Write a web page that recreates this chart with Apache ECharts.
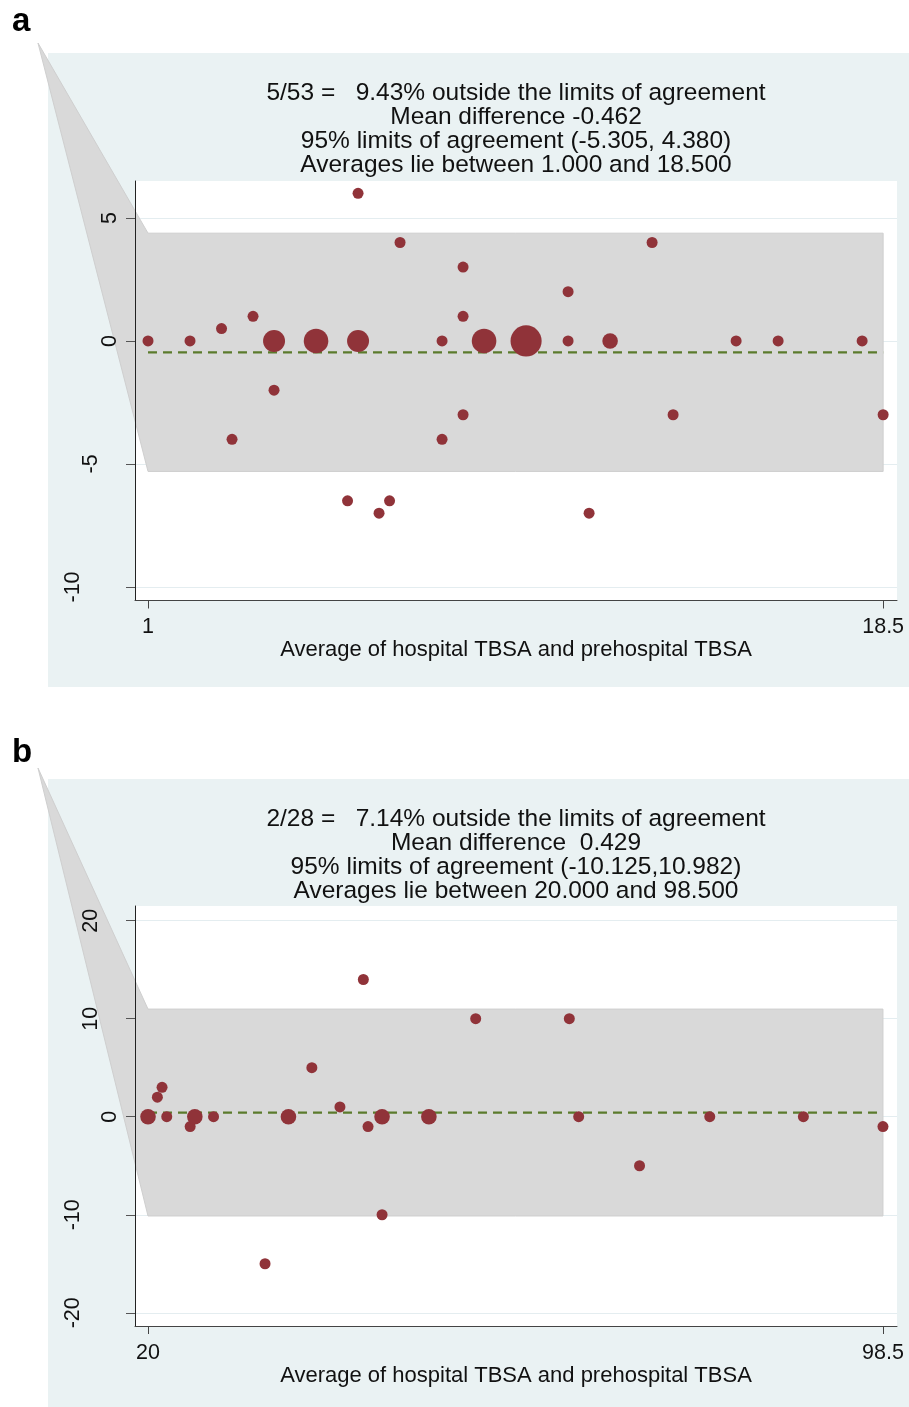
<!DOCTYPE html>
<html><head><meta charset="utf-8">
<script src="https://cdn.jsdelivr.net/npm/echarts@6/dist/echarts.min.js"></script>
<style>html,body{margin:0;padding:0;background:#fff}#c{width:909px;height:1407px}</style>
</head><body><div id="c"></div>
<script>
// ---------- Panel a data ----------
const avgA   = [1, 2, 2.75, 3, 3.5, 4, 4, 5, 5.75, 6, 6, 6.5, 6.75, 7, 8, 8, 8.5, 8.5, 8.5, 9, 10, 11, 11, 11.5, 12, 13, 13.5, 15, 16, 18, 18.5];
const diffA  = [0, 0, 0.5, -4, 1, 0, -2, 0, -6.5, 6, 0, -7, -6.5, 4, 0, -4, 3, 1, -3, 0, 0, 2, 0, -7, 0, 4, -3, 0, 0, 0, -3];
const countA = [1, 1, 1, 1, 1, 4, 1, 5, 1, 1, 4, 1, 1, 1, 1, 1, 1, 1, 1, 5, 8, 1, 1, 1, 2, 1, 1, 1, 1, 1, 1];
const meanA = -0.462;
const loaA = [-5.305, 4.380];
const xTicksA = [1, 18.5];
const yTicksA = [-10, -5, 0, 5];
const xRangeA = [0.69, 18.83];
const yRangeA = [-10.55, 6.5];
const titleA = ['5/53 =   9.43% outside the limits of agreement', 'Mean difference -0.462', '95% limits of agreement (-5.305, 4.380)', 'Averages lie between 1.000 and 18.500'];

// ---------- Panel b data ----------
const avgB   = [20, 21, 21.5, 22, 24.5, 25, 27, 32.5, 35, 37.5, 40.5, 43, 43.5, 45, 45, 50, 55, 65, 66, 72.5, 80, 90, 98.5];
const diffB  = [0, 2, 3, 0, -1, 0, 0, -15, 0, 5, 1, 14, -1, 0, -10, 0, 10, 10, 0, -5, 0, 0, -1];
const countB = [2, 1, 1, 1, 1, 2, 1, 1, 2, 1, 1, 1, 1, 2, 1, 2, 1, 1, 1, 1, 1, 1, 1];
const meanB = 0.429;
const loaB = [-10.125, 10.982];
const xTicksB = [20, 98.5];
const yTicksB = [-20, -10, 0, 10, 20];
const xRangeB = [18.61, 100];
const yRangeB = [-21.35, 21.5];
const titleB = ['2/28 =   7.14% outside the limits of agreement', 'Mean difference  0.429', '95% limits of agreement (-10.125,10.982)', 'Averages lie between 20.000 and 98.500'];

const xName = 'Average of hospital TBSA and prehospital TBSA';

// ---------- styles / layout ----------
const FONT = '"Liberation Sans", Arial, Helvetica, sans-serif';
const BG = '#eaf2f3';
const MARKER = '#903339';
const MEANC = '#5b7b2c';
const BAND = '#d9d9d9';
const BASE_SIZE = 11;
const APEX = [-97, -138];
const LBL_MARGIN = 14;
const CHAR_SHIFT = 18.5;
const TICK_FS = 21.5;

const panels = [
  {label:'a', avg:avgA, diff:diffA, count:countA, mean:meanA, loa:loaA, xTicks:xTicksA, yTicks:yTicksA,
   xRange:xRangeA, yRange:yRangeA, title:titleA,
   grid:{left:135, top:181, width:762, height:419.5}, bg:[48, 53, 861, 634], labelY:22, titleTop:81},
  {label:'b', avg:avgB, diff:diffB, count:countB, mean:meanB, loa:loaB, xTicks:xTicksB, yTicks:yTicksB,
   xRange:xRangeB, yRange:yRangeB, title:titleB,
   grid:{left:135, top:906, width:762, height:420}, bg:[48, 779, 861, 628], labelY:753, titleTop:807}
];

const grids = [], xAxes = [], yAxes = [], series = [], graphics = [];

panels.forEach((p, i) => {
  graphics.push({type:'rect', z:-10, shape:{x:p.bg[0], y:p.bg[1], width:p.bg[2], height:p.bg[3]}, style:{fill:BG}, silent:true});
  graphics.push({type:'text', z:10, style:{text:p.title.join('\n'), x:516, y:p.titleTop, textAlign:'center', textVerticalAlign:'top',
    font:'24.5px ' + FONT, lineHeight:24, fill:'#111'}, silent:true});
  graphics.push({type:'text', z:10, style:{text:p.label, x:12, y:p.labelY, textAlign:'left', textVerticalAlign:'middle',
    font:'bold 33px ' + FONT, fill:'#000'}, silent:true});

  grids.push(Object.assign({show:true, backgroundColor:'#fff', borderWidth:0, containLabel:false, outerBoundsMode:'none'}, p.grid));

  xAxes.push({
    type:'value', gridIndex:i, position:'bottom', min:p.xRange[0], max:p.xRange[1], z:5,
    axisLine:{show:true, onZero:false, lineStyle:{color:'#444', width:1}},
    axisTick:{show:true, length:8, customValues:p.xTicks, lineStyle:{color:'#444', width:1}},
    axisLabel:{show:true, customValues:p.xTicks, margin:16, fontSize:TICK_FS, fontFamily:FONT, color:'#111'},
    splitLine:{show:false},
    name:xName, nameLocation:'middle', nameGap:38,
    nameTextStyle:{fontSize:22, fontFamily:FONT, color:'#111'}
  });

  const common = {type:'value', gridIndex:i, position:'left', offset:0, min:p.yRange[0], max:p.yRange[1]};
  // gridlines (below band)
  yAxes.push(Object.assign({}, common, {z:0,
    axisLine:{show:false}, axisTick:{show:false, customValues:p.yTicks}, axisLabel:{show:false},
    splitLine:{show:true, lineStyle:{color:'#e4edf0', width:1}}}));
  // labels grouped by character count (Stata-like vertical label offset)
  [1, 2, 3].forEach(k => {
    const vals = p.yTicks.filter(t => String(t).length === k);
    yAxes.push(Object.assign({}, common, {z:5,
      axisLine:{show:k === 1, onZero:false, lineStyle:{color:'#222', width:1}},
      axisTick:{show:k === 1, length:9, customValues:p.yTicks, lineStyle:{color:'#555', width:1}},
      axisLabel:{show:vals.length > 0, rotate:90, customValues:vals.length ? vals : [p.yTicks[0]],
        margin:LBL_MARGIN + (k - 1) * CHAR_SHIFT, fontSize:TICK_FS, fontFamily:FONT, color:'#111'},
      splitLine:{show:false}}));
  });

  const yIdx = i * 4 + 1;
  const xmin = Math.min(...p.avg), xmax = Math.max(...p.avg);

  series.push({
    type:'custom', xAxisIndex:i, yAxisIndex:yIdx, z:1, clip:false, silent:true,
    data:[[xmin, xmax, p.loa[0], p.loa[1]]],
    renderItem:(params, api) => {
      const tl = api.coord([api.value(0), api.value(3)]);
      const tr = api.coord([api.value(1), api.value(3)]);
      const br = api.coord([api.value(1), api.value(2)]);
      const bl = api.coord([api.value(0), api.value(2)]);
      const cs = params.coordSys;
      const apex = [cs.x + APEX[0], cs.y + APEX[1]];
      return {type:'polygon', shape:{points:[apex, tl, tr, br, bl]},
        style:{fill:BAND, stroke:'#cfcfcf', lineWidth:1}};
    }
  });

  series.push({
    type:'line', xAxisIndex:i, yAxisIndex:yIdx, z:3, silent:true, symbol:'none',
    data:[[xmin, p.mean], [xmax, p.mean]],
    lineStyle:{color:MEANC, width:2.2, type:[9, 6]}
  });

  series.push({
    type:'scatter', xAxisIndex:i, yAxisIndex:yIdx, z:4, silent:true,
    data:p.avg.map((x, k) => [x, p.diff[k], p.count[k]]),
    symbolSize:v => BASE_SIZE * Math.sqrt(v[2]),
    itemStyle:{color:MARKER, opacity:1}
  });
});

const chart = echarts.init(document.getElementById('c'), null, {renderer:'canvas', width:909, height:1407});
chart.setOption({
  animation:false,
  backgroundColor:'#fff',
  grid:grids, xAxis:xAxes, yAxis:yAxes, series:series,
  graphic:{elements:graphics}
});
</script>
</body></html>
